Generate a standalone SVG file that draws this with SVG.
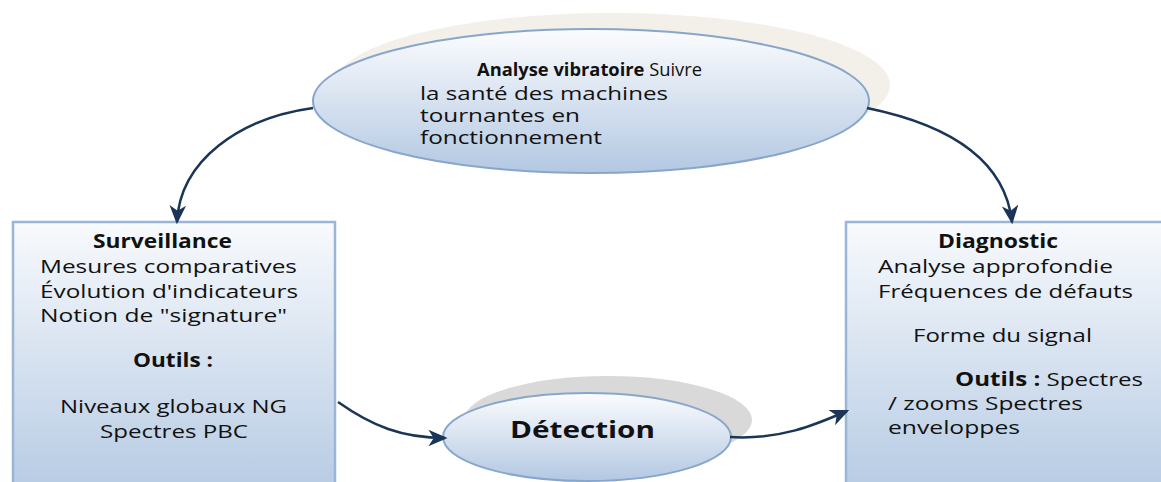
<svg xmlns="http://www.w3.org/2000/svg" width="1161" height="482" viewBox="0 0 1161 482">
  <defs>
    <linearGradient id="boxGrad" x1="0" y1="0" x2="0" y2="1">
      <stop offset="0" stop-color="#f8fafd"/>
      <stop offset="1" stop-color="#b5cae3"/>
    </linearGradient>
    <linearGradient id="ellGrad" x1="0" y1="0" x2="0" y2="1">
      <stop offset="0" stop-color="#fbfcfe"/>
      <stop offset="1" stop-color="#b3c8e2"/>
    </linearGradient>
    <marker id="arrow" markerUnits="userSpaceOnUse" markerWidth="19" markerHeight="19" viewBox="0 0 16 16" refX="14" refY="8" orient="auto">
      <path d="M0,1 L16,8 L0,15 L4.5,8 Z" fill="#1b3556"/>
    </marker>
  </defs>
  <style>
    .box { fill: url(#boxGrad); stroke: #9ab5d6; stroke-width: 2.5; }
    .ell { fill: url(#ellGrad); stroke: #88a6cb; stroke-width: 2; }
    .conn { fill: none; stroke: #1b3556; stroke-width: 2.5; marker-end: url(#arrow); }
    text { font-family: "Open Sans", "Liberation Sans", sans-serif; font-size: 19px; fill: #111; }
    .t { font-size: 17.5px; }
    .b { font-weight: bold; }
    .big { font-size: 24px; font-weight: bold; }
  </style>

  <rect width="1161" height="482" fill="#ffffff"/>

  <g id="node-analyse">
    <ellipse cx="612" cy="85" rx="278" ry="72" fill="#f3efe9"/>
    <ellipse class="ell" cx="591" cy="101" rx="278" ry="72"/>
    <text class="t" x="477" y="76" textLength="225" lengthAdjust="spacingAndGlyphs"><tspan class="b">Analyse vibratoire</tspan> Suivre</text>
    <text class="t" x="420" y="100" textLength="248" lengthAdjust="spacingAndGlyphs">la santé des machines</text>
    <text class="t" x="420" y="122" textLength="160" lengthAdjust="spacingAndGlyphs">tournantes en</text>
    <text class="t" x="420" y="144" textLength="182" lengthAdjust="spacingAndGlyphs">fonctionnement</text>
  </g>

  <g id="node-surveillance">
    <rect class="box" x="13" y="222" width="322" height="275"/>
    <text class="b" x="93" y="248" textLength="139" lengthAdjust="spacingAndGlyphs">Surveillance</text>
    <text x="40" y="273" textLength="257" lengthAdjust="spacingAndGlyphs">Mesures comparatives</text>
    <text x="40" y="298" textLength="258" lengthAdjust="spacingAndGlyphs">Évolution d'indicateurs</text>
    <text x="40" y="322" textLength="247" lengthAdjust="spacingAndGlyphs">Notion de "signature"</text>
    <text class="b" x="133" y="367" textLength="80" lengthAdjust="spacingAndGlyphs">Outils :</text>
    <text x="60" y="413" textLength="227" lengthAdjust="spacingAndGlyphs">Niveaux globaux NG</text>
    <text x="100" y="438" textLength="148" lengthAdjust="spacingAndGlyphs">Spectres PBC</text>
  </g>

  <g id="node-diagnostic">
    <rect class="box" x="846" y="222" width="330" height="275"/>
    <text class="b" x="938" y="248" textLength="120" lengthAdjust="spacingAndGlyphs">Diagnostic</text>
    <text x="878" y="273" textLength="235" lengthAdjust="spacingAndGlyphs">Analyse approfondie</text>
    <text x="878" y="298" textLength="255" lengthAdjust="spacingAndGlyphs">Fréquences de défauts</text>
    <text x="913" y="342" textLength="179" lengthAdjust="spacingAndGlyphs">Forme du signal</text>
    <text x="955" y="386" textLength="188" lengthAdjust="spacingAndGlyphs"><tspan class="b">Outils :</tspan> Spectres</text>
    <text x="888" y="410" textLength="195" lengthAdjust="spacingAndGlyphs">/ zooms Spectres</text>
    <text x="888" y="434" textLength="132" lengthAdjust="spacingAndGlyphs">enveloppes</text>
  </g>

  <g id="node-detection">
    <ellipse cx="608" cy="420" rx="144" ry="44" fill="#d9d9d9"/>
    <ellipse class="ell" cx="587" cy="437" rx="144" ry="44"/>
    <text class="big" x="510" y="438" textLength="145" lengthAdjust="spacingAndGlyphs">Détection</text>
  </g>

  <g id="connectors">
    <path class="conn" d="M313,108 C240,118 180,160 177,222"/>
    <path class="conn" d="M867,108 C950,125 1005,160 1012,222"/>
    <path class="conn" d="M338,402 C372,426 402,438 445,438"/>
    <path class="conn" d="M730,437 C780,440 815,425 847,411"/>
  </g>
</svg>
